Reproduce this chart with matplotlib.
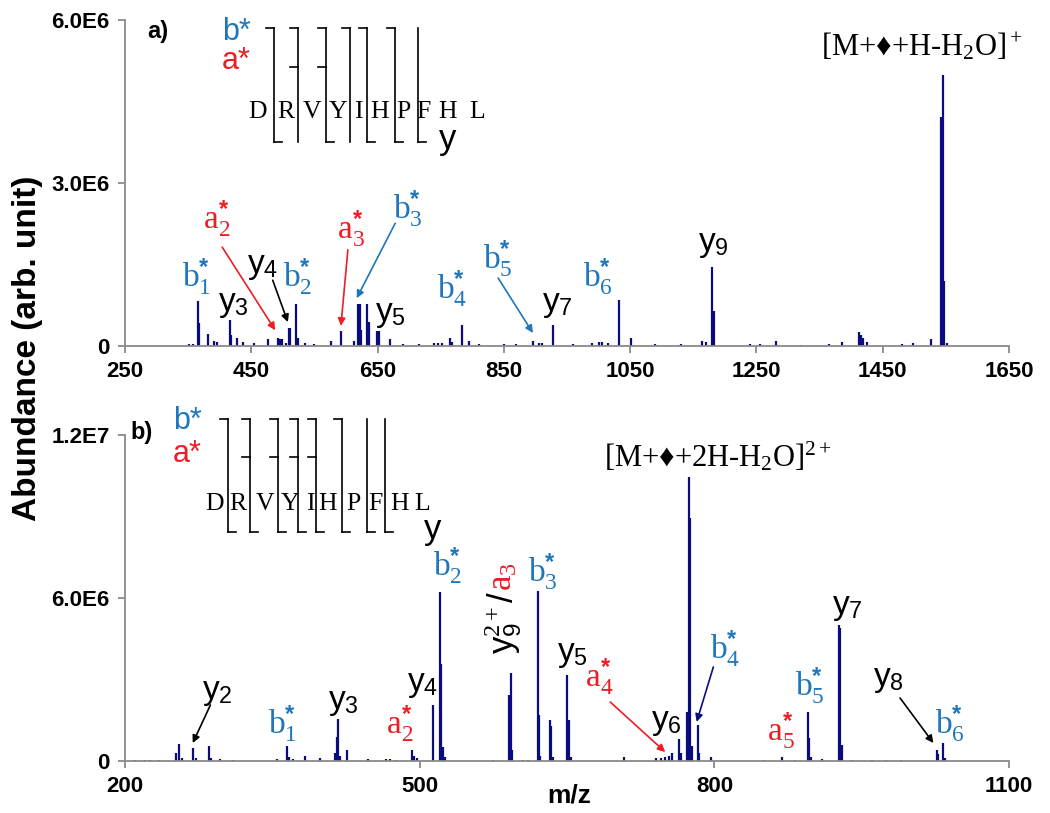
import matplotlib
matplotlib.use("Agg")
import matplotlib.pyplot as plt

plt.rcParams["font.family"] = ["Liberation Sans", "DejaVu Sans"]
plt.rcParams["mathtext.fontset"] = "custom"
plt.rcParams["mathtext.rm"] = "Liberation Serif"
plt.rcParams["mathtext.it"] = "Liberation Serif:italic"
plt.rcParams["mathtext.bf"] = "Liberation Sans:bold"
plt.rcParams["mathtext.sf"] = "Liberation Sans"

BLUE = "#1f76bb"
RED = "#ee1c25"
NAVY = "#0b0b80"
GREY = "#8a8a8a"

# ---- panel a) peaks (m/z, abundance)
mz_a = [352, 358, 366, 368, 381, 391, 395, 416, 418, 427, 437, 455, 476, 492, 495,
        499, 505, 510, 512, 521, 524, 535, 550, 577, 592, 612, 619, 622, 624, 633,
        636, 649, 651, 653, 670, 690, 715, 740, 745, 752, 765, 768, 783, 795, 810,
        850, 870, 896, 905, 910, 928, 960, 989, 1000, 1005, 1015, 1033, 1051, 1090,
        1130, 1163, 1170, 1180, 1182, 1240, 1255, 1281, 1320, 1365, 1385, 1413, 1415,
        1418, 1425, 1480, 1498, 1526, 1542, 1545, 1547, 1552]
int_a = [0.03e6, 0.04e6, 0.83e6, 0.43e6, 0.22e6, 0.10e6, 0.08e6, 0.48e6, 0.20e6, 0.15e6,
         0.08e6, 0.05e6, 0.12e6, 0.15e6, 0.12e6, 0.12e6, 0.05e6, 0.34e6, 0.34e6, 0.78e6,
         0.15e6, 0.06e6, 0.04e6, 0.10e6, 0.28e6, 0.10e6, 0.77e6, 0.77e6, 0.30e6, 0.78e6,
         0.45e6, 0.28e6, 0.28e6, 0.28e6, 0.12e6, 0.03e6, 0.03e6, 0.05e6, 0.06e6, 0.05e6,
         0.15e6, 0.08e6, 0.39e6, 0.10e6, 0.03e6, 0.03e6, 0.03e6, 0.10e6, 0.06e6, 0.05e6,
         0.39e6, 0.04e6, 0.06e6, 0.08e6, 0.07e6, 0.05e6, 0.85e6, 0.15e6, 0.03e6, 0.03e6,
         0.10e6, 0.08e6, 1.46e6, 0.65e6, 0.03e6, 0.04e6, 0.10e6, 0.02e6, 0.04e6, 0.07e6,
         0.26e6, 0.20e6, 0.15e6, 0.08e6, 0.03e6, 0.06e6, 0.12e6, 4.22e6, 4.99e6, 1.20e6,
         0.05e6]

# ---- panel b) peaks
mz_b = [210, 220, 225, 235, 251.9, 255.3, 258, 269.5, 272, 285.8, 288, 296.7, 309.6,
        354.4, 365.2, 367, 371.4, 383.2, 398.5, 414, 415.5, 416.8, 419, 425.7, 447.7,
        466, 470, 476, 492.5, 494, 497, 513.9, 520.7, 521.7, 523.4, 526, 575, 591,
        592.6, 594, 605, 610, 620.1, 621.8, 623, 632.7, 634, 636, 650.3, 651.8, 654,
        708, 741, 746, 750, 754, 757, 764.3, 766, 772.4, 773.8, 775.2, 776.9, 783,
        784.5, 796.5, 851, 868.5, 882, 895, 896.2, 898, 910, 927.2, 928.4, 929.7, 940,
        960, 975, 990, 1026.3, 1028, 1033, 1035]
int_b = [0.02e6, 0.03e6, 0.03e6, 0.04e6, 0.28e6, 0.63e6, 0.10e6, 0.47e6, 0.10e6, 0.55e6,
         0.12e6, 0.08e6, 0.05e6, 0.06e6, 0.55e6, 0.15e6, 0.08e6, 0.20e6, 0.12e6, 0.30e6,
         0.90e6, 1.55e6, 0.20e6, 0.40e6, 0.08e6, 0.06e6, 0.08e6, 0.05e6, 0.40e6, 0.20e6,
         0.10e6, 2.06e6, 6.21e6, 3.56e6, 0.50e6, 0.15e6, 0.05e6, 2.43e6, 3.25e6, 0.40e6,
         0.05e6, 0.04e6, 6.26e6, 1.70e6, 0.20e6, 1.50e6, 1.30e6, 0.15e6, 3.17e6, 1.50e6,
         0.15e6, 0.15e6, 0.10e6, 0.12e6, 0.15e6, 0.20e6, 0.30e6, 0.81e6, 0.30e6, 1.81e6,
         10.46e6, 8.93e6, 0.55e6, 1.33e6, 0.30e6, 0.15e6, 0.05e6, 0.15e6, 0.04e6, 1.79e6,
         0.85e6, 0.15e6, 0.08e6, 5.00e6, 4.90e6, 0.60e6, 0.05e6, 0.04e6, 0.05e6, 0.04e6,
         0.40e6, 0.25e6, 0.65e6, 0.10e6]

# ---- axes ticks
xticks_a = [250, 450, 650, 850, 1050, 1250, 1450, 1650]
yticks_a = [0, 3.0e6, 6.0e6]
ylabels_a = ["0", "3.0E6", "6.0E6"]
xticks_b = [200, 500, 800, 1100]
yticks_b = [0, 6.0e6, 1.2e7]
ylabels_b = ["0", "6.0E6", "1.2E7"]

# ---- fragment labels: ion type, number, m/z (left), abundance (bottom)
ion_a = ["b", "y", "a", "y", "b", "a", "b", "y", "b", "b", "y", "b", "y"]
num_a = [1, 3, 2, 4, 2, 3, 3, 5, 4, 5, 7, 6, 9]
lx_a = [340, 397, 374, 443, 500, 586, 674, 646, 744, 817, 910, 975, 1157]
ly_a = [0.88e6, 0.48e6, 1.95e6, 1.18e6, 0.88e6, 1.77e6, 2.13e6, 0.29e6, 0.66e6,
        1.21e6, 0.48e6, 0.88e6, 1.58e6]

ion_b = ["y", "b", "y", "a", "y", "b", "b", "y", "a", "y", "b", "a", "b", "y", "y", "b"]
num_b = [2, 1, 3, 2, 4, 2, 3, 5, 4, 6, 4, 5, 5, 7, 8, 6]
lx_b = [278, 346, 407, 466, 487, 514, 610, 640, 668, 736, 796, 854, 882, 920, 961, 1025]
ly_b = [1.95e6, 0.59e6, 1.58e6, 0.59e6, 2.25e6, 6.40e6, 6.18e6, 3.35e6, 2.32e6, 0.85e6,
        3.35e6, 0.33e6, 1.99e6, 5.08e6, 2.43e6, 0.59e6]

# ---- arrows: start (m/z, abundance) -> end (m/z, abundance), colour
arrows_a = [(404, 1.82e6, 488, 0.29e6, RED), (484, 1.21e6, 508, 0.44e6, "black"),
            (603, 1.77e6, 592, 0.37e6, RED), (678, 2.26e6, 617, 0.88e6, BLUE),
            (841, 1.25e6, 896, 0.24e6, BLUE)]
arrows_b = [(287, 2.06e6, 269, 0.66e6, "black"), (694, 2.17e6, 750, 0.33e6, RED),
            (799, 3.46e6, 782, 1.44e6, NAVY), (989, 2.32e6, 1023, 0.66e6, "black")]

# ---- peptide sequence diagram (axes fraction positions)
SEQ = "DRVYIHPFHL"
letters_x_a = [0.1505, 0.1821, 0.2115, 0.2410, 0.2636, 0.2885, 0.3145, 0.3371, 0.3654, 0.3982]
cuts_x_a = [0.1686, 0.1957, 0.2274, 0.2545, 0.2738, 0.3054, 0.3314]
b_cuts_a = [1, 2, 3, 4, 5, 6]
a_cuts_a = [2, 3]
y_cuts_a = [9, 7, 5, 4, 3]

letters_x_b = [0.1018, 0.1278, 0.1584, 0.1867, 0.2093, 0.2296, 0.2579, 0.2828, 0.3111, 0.3360]
cuts_x_b = [0.1165, 0.1414, 0.1731, 0.1957, 0.2161, 0.2455, 0.2738, 0.2941]
b_cuts_b = [1, 2, 3, 4, 5, 6]
a_cuts_b = [2, 3, 4, 5]
y_cuts_b = [9, 8, 7, 6, 5, 4, 3, 2]

ION_STYLE = {"b": (BLUE, "Liberation Serif"), "a": (RED, "Liberation Serif"),
             "y": ("black", "Liberation Sans")}
SERIF = ["Liberation Serif", "DejaVu Sans"]


def style_axes(ax, xticks, yticks, ylabels, xlim, ylim):
    ax.set_xlim(*xlim)
    ax.set_ylim(*ylim)
    for s in ["top", "right"]:
        ax.spines[s].set_visible(False)
    for s in ["left", "bottom"]:
        ax.spines[s].set_color(GREY)
        ax.spines[s].set_linewidth(1.3)
    ax.set_xticks(xticks)
    ax.set_xticklabels([str(t) for t in xticks], fontweight="bold", fontsize=16)
    ax.set_yticks(yticks)
    ax.set_yticklabels(ylabels, fontweight="bold", fontsize=16)
    ax.tick_params(direction="out", length=5, width=1.3, color=GREY, pad=6)


def draw_labels(ax, ions, nums, xs, ys):
    for ion, n, x, y in zip(ions, nums, xs, ys):
        color, fam = ION_STYLE[ion]
        if ion == "y":
            s = ion + r"$_{\mathsf{%d}}$" % n
        else:
            s = ion + r"$_{\mathrm{%d}}^{\mathbf{*}}$" % n
        ax.text(x, y, s, color=color, family=fam, fontsize=24, ha="left", va="bottom")


def draw_arrows(ax, arrows):
    for x0, y0, x1, y1, c in arrows:
        ax.annotate("", xy=(x1, y1), xytext=(x0, y0),
                    arrowprops=dict(arrowstyle="-|>", color=c, lw=1.2,
                                    mutation_scale=11, shrinkA=0, shrinkB=0))


def draw_sequence(ax, letters_x, cuts_x, b_cuts, a_cuts, y_cuts,
                  y_top, y_a, y_bot, y_base, tag_x, tag_b, tag_a, yt_x, yt_y):
    tr = ax.transAxes
    hook = 0.0095
    kw = dict(transform=tr, color="black", lw=1.2, clip_on=False)
    for ch, x in zip(SEQ, letters_x):
        ax.text(x, y_base, ch, transform=tr, ha="center", va="baseline",
                fontsize=18.5, family="Liberation Serif")
    for i, x in enumerate(cuts_x):
        ax.plot([x, x], [y_bot, y_top], **kw)
        if i + 1 in b_cuts:
            ax.plot([x - hook, x], [y_top, y_top], **kw)
        if i + 1 in a_cuts:
            ax.plot([x - hook, x], [y_a, y_a], **kw)
        if len(SEQ) - (i + 1) in y_cuts:
            ax.plot([x, x + hook], [y_bot, y_bot], **kw)
    ax.text(tag_x, tag_b, "b*", transform=tr, color=BLUE, fontsize=22,
            ha="left", va="center")
    ax.text(tag_x, tag_a, "a*", transform=tr, color=RED, fontsize=22,
            ha="left", va="center")
    ax.text(yt_x, yt_y, "y", transform=tr, color="black", fontsize=25,
            ha="center", va="center")


fig = plt.figure(figsize=(10.5, 8.13), dpi=100)
ax1 = fig.add_axes([0.119, 0.5744, 0.842, 0.401])
ax2 = fig.add_axes([0.119, 0.064, 0.842, 0.401])

# panel a
ax1.vlines(mz_a, 0, int_a, color=NAVY, lw=1.6)
style_axes(ax1, xticks_a, yticks_a, ylabels_a, (250, 1650), (0, 6.0e6))
draw_labels(ax1, ion_a, num_a, lx_a, ly_a)
draw_arrows(ax1, arrows_a)
draw_sequence(ax1, letters_x_a, cuts_x_a, b_cuts_a, a_cuts_a, y_cuts_a,
              0.9755, 0.856, 0.626, 0.699, 0.1097, 0.963, 0.874, 0.365, 0.632)
ax1.text(1512, 5.5e6, "[M+\u2666+H-H$_2$O]$^+$", family=SERIF,
         fontsize=22, ha="center", va="center")
ax1.text(0.025, 0.966, "a)", transform=ax1.transAxes, fontsize=17,
         fontweight="bold", ha="left", va="center")

# panel b
ax2.vlines(mz_b, 0, int_b, color=NAVY, lw=1.6)
style_axes(ax2, xticks_b, yticks_b, ylabels_b, (200, 1100), (0, 1.2e7))
draw_labels(ax2, ion_b, num_b, lx_b, ly_b)
draw_arrows(ax2, arrows_b)
draw_sequence(ax2, letters_x_b, cuts_x_b, b_cuts_b, a_cuts_b, y_cuts_b,
              1.049, 0.933, 0.702, 0.770, 0.0543, 1.043, 0.942, 0.348, 0.709)
ax2.text(804, 1.12e7, "[M+\u2666+2H-H$_2$O]$^{2+}$", family=SERIF,
         fontsize=22, ha="center", va="center")
ax2.text(0.0057, 1.006, "b)", transform=ax2.transAxes, fontsize=17,
         fontweight="bold", ha="left", va="center")

# rotated y9(2+)/a3 label
t = ax2.text(585, 3.95e6, r"y$_{\mathsf{9}}^{\mathrm{2+}}$/", rotation=90, fontsize=25,
             color="black", ha="center", va="bottom")
ax2.annotate(r"a$_{\mathrm{3}}$", xy=(0.5, 1.0), xycoords=t, rotation=90, fontsize=25,
             color=RED, family="Liberation Serif", ha="center", va="bottom")

fig.text(0.026, 0.571, "Abundance (arb. unit)", rotation=90, fontsize=24,
         fontweight="bold", ha="center", va="center")
fig.text(0.542, 0.021, "m/z", fontsize=19, fontweight="bold", ha="center", va="center")

fig.savefig("out.png", dpi=100)
